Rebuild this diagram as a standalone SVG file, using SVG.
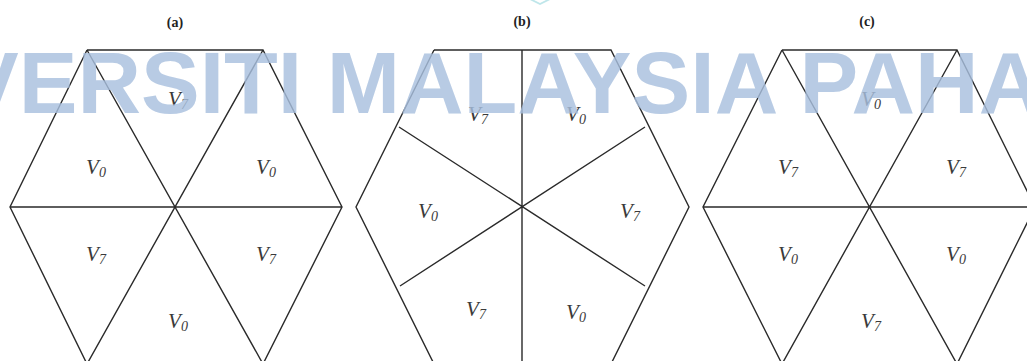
<svg xmlns="http://www.w3.org/2000/svg" width="1027" height="361" viewBox="0 0 1027 361">
<style>
.ln{stroke:#2a2a2a;stroke-width:1.4;fill:none;stroke-linejoin:miter}
.t{font-family:"Liberation Serif","Times New Roman",serif;font-weight:bold;font-size:14px;fill:#222;text-anchor:middle}
.v{font-family:"Liberation Serif","Times New Roman",serif;font-style:italic;font-size:21px;fill:#3a3a3a;text-anchor:middle}
.s{font-size:14px}
.wm{font-family:"Liberation Sans",Arial,sans-serif;font-weight:bold;font-size:88px;fill:#a8c0de;fill-opacity:0.82}
</style>
<rect width="1027" height="361" fill="#ffffff"/>
<g id="panel-a">
<text class="t" x="175" y="27">(a)</text>
<g class="ln">
<path d="M87,50 L263,50 L342,207 L263,364 M87,50 L10,207 L87,364 M10,207 L342,207 M87,50 L263,364 M263,50 L87,364"/>
</g>
<text class="v" x="178" y="106">V<tspan class="s" dy="3">7</tspan></text>
<text class="v" x="96" y="174">V<tspan class="s" dy="3">0</tspan></text>
<text class="v" x="266" y="174">V<tspan class="s" dy="3">0</tspan></text>
<text class="v" x="96" y="261">V<tspan class="s" dy="3">7</tspan></text>
<text class="v" x="266" y="261">V<tspan class="s" dy="3">7</tspan></text>
<text class="v" x="178" y="328">V<tspan class="s" dy="3">0</tspan></text>
</g>
<g id="panel-b">
<text class="t" x="522" y="26">(b)</text>
<g class="ln">
<path d="M434,50 L611,50 L689,207 L611,364 M434,50 L356,207 L434,364 M522,50 L522,364 M399,127 L645,286 M645,127 L400,286"/>
</g>
<text class="v" x="478" y="121">V<tspan class="s" dy="3">7</tspan></text>
<text class="v" x="576" y="121">V<tspan class="s" dy="3">0</tspan></text>
<text class="v" x="428" y="218">V<tspan class="s" dy="3">0</tspan></text>
<text class="v" x="630" y="218">V<tspan class="s" dy="3">7</tspan></text>
<text class="v" x="476" y="316">V<tspan class="s" dy="3">7</tspan></text>
<text class="v" x="576" y="319">V<tspan class="s" dy="3">0</tspan></text>
</g>
<g id="panel-c">
<text class="t" x="867" y="26">(c)</text>
<g class="ln">
<path d="M782,50 L957,50 L1035,207 L957,364 M782,50 L703,207 L782,364 M703,207 L1035,207 M782,50 L957,364 M957,50 L782,364"/>
</g>
<text class="v" x="871" y="106">V<tspan class="s" dy="3">0</tspan></text>
<text class="v" x="788" y="174">V<tspan class="s" dy="3">7</tspan></text>
<text class="v" x="956" y="174">V<tspan class="s" dy="3">7</tspan></text>
<text class="v" x="788" y="261">V<tspan class="s" dy="3">0</tspan></text>
<text class="v" x="956" y="261">V<tspan class="s" dy="3">0</tspan></text>
<text class="v" x="871" y="328">V<tspan class="s" dy="3">7</tspan></text>
</g>
<g id="watermark">
<path d="M530,0 L540,5 L550,0 L546,0 L540,3 L534,0 Z" fill="#bfe6ea"/>
<text class="wm" x="-40" y="113">VERSITI MALAYSIA PAHA</text>
</g>
</svg>
